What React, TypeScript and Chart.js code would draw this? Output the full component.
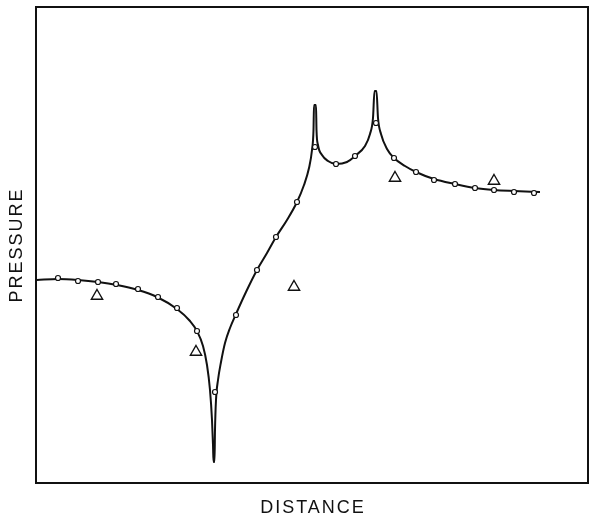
import React, { useEffect, useRef } from "react";
import { Chart, registerables } from "chart.js";

Chart.register(...registerables);

// Distance and pressure in arbitrary units (distance 0–55.2, pressure 0–47.6)
const curveDistance = [
  0.1, 2.2, 4.2, 6.2, 8.1, 10.2, 12.1, 14.1, 15.4, 16.1, 16.7, 17.1, 17.4, 17.6, 17.7, 17.75,
  17.85, 17.9, 18.0, 18.2, 18.5, 18.9, 19.4, 20.0, 21.0, 22.1, 23.1, 24.0, 25.1, 26.1, 26.8,
  27.3, 27.6, 27.75, 27.8, 28.0, 28.05, 28.2, 28.6, 29.2, 30.0, 31.1, 31.9, 32.9, 33.4, 33.7,
  33.85, 34.05, 34.2, 34.5, 35.1, 35.8, 36.9, 38.0, 39.8, 41.9, 43.9, 45.8, 47.8, 50.4,
];
const curvePressure = [
  20.3, 20.4, 20.3, 20.1, 19.8, 19.3, 18.6, 17.4, 16.2, 15.2, 13.7, 11.8, 9.3, 6.3, 3.8, 2.1,
  2.1, 5.3, 8.3, 10.3, 12.1, 14.0, 15.5, 16.9, 19.1, 21.3, 23.0, 24.6, 26.3, 28.1, 29.8,
  31.5, 33.3, 35.3, 37.8, 37.8, 35.3, 33.8, 32.8, 32.2, 31.9, 32.1, 32.7, 33.7, 34.9, 36.5,
  39.2, 39.2, 36.5, 34.9, 33.4, 32.5, 31.7, 31.1, 30.4, 29.9, 29.5, 29.3, 29.2, 29.1,
];

const circleDistance = [
  2.2, 4.2, 6.2, 8.0, 10.2, 12.2, 14.1, 16.1, 17.9, 20.0, 22.1, 24.0, 26.1, 27.9, 30.0, 31.9,
  34.0, 35.8, 38.0, 39.8, 41.9, 43.9, 45.8, 47.8, 49.8,
];
const circlePressure = [
  20.5, 20.2, 20.1, 19.9, 19.4, 18.6, 17.5, 15.2, 9.1, 16.8, 21.3, 24.6, 28.1, 33.6, 31.9, 32.7,
  36.0, 32.5, 31.1, 30.3, 29.9, 29.5, 29.3, 29.1, 29.0,
];

const triangleDistance = [6.1, 16.0, 25.8, 35.9, 45.8];
const trianglePressure = [18.7, 13.1, 19.6, 30.5, 30.2];

const xTitle = "DISTANCE";
const yTitle = "PRESSURE";

const toPoints = (xs: number[], ys: number[]) => xs.map((x, i) => ({ x, y: ys[i] }));

const framePlugin = {
  id: "frameAndTitles",
  afterDraw(chart: any) {
    const { ctx, chartArea } = chart;
    ctx.save();
    ctx.strokeStyle = "#111";
    ctx.lineWidth = 2;
    ctx.strokeRect(
      chartArea.left,
      chartArea.top,
      chartArea.right - chartArea.left,
      chartArea.bottom - chartArea.top
    );
    ctx.fillStyle = "#111";
    ctx.font = "18px 'Liberation Sans', Arial, sans-serif";
    (ctx as any).letterSpacing = "2px";
    ctx.textAlign = "center";
    ctx.textBaseline = "alphabetic";
    ctx.fillText(xTitle, 313, 513);
    ctx.translate(22, 245);
    ctx.rotate(-Math.PI / 2);
    ctx.fillText(yTitle, 0, 0);
    ctx.restore();
  },
};

export default function App() {
  const canvasRef = useRef<HTMLCanvasElement | null>(null);

  useEffect(() => {
    if (!canvasRef.current) return;
    const chart = new Chart(canvasRef.current, {
      type: "scatter",
      data: {
        datasets: [
          {
            type: "line",
            data: toPoints(curveDistance, curvePressure),
            borderColor: "#111",
            borderWidth: 2,
            pointRadius: 0,
            fill: false,
            cubicInterpolationMode: "monotone",
            order: 3,
          } as any,
          {
            data: toPoints(circleDistance, circlePressure),
            pointStyle: "circle",
            pointRadius: 2.5,
            borderWidth: 1.2,
            borderColor: "#111",
            backgroundColor: "#fff",
            order: 1,
          },
          {
            data: toPoints(triangleDistance, trianglePressure),
            pointStyle: "triangle",
            pointRadius: 6.5,
            borderWidth: 1.4,
            borderColor: "#111",
            backgroundColor: "#fff",
            order: 2,
          },
        ],
      },
      options: {
        animation: false,
        responsive: true,
        maintainAspectRatio: false,
        layout: { autoPadding: false, padding: { left: 36, right: 2, top: 7, bottom: 38 } },
        plugins: { legend: { display: false }, tooltip: { enabled: false } },
        scales: {
          x: {
            type: "linear",
            min: 0,
            max: 55.2,
            display: false,
          },
          y: {
            type: "linear",
            min: 0,
            max: 47.6,
            display: false,
          },
        },
      },
      plugins: [framePlugin],
    });
    return () => chart.destroy();
  }, []);

  return (
    <div style={{ position: "fixed", left: 0, top: 0, width: 590, height: 521, background: "#fff" }}>
      <canvas ref={canvasRef} />
    </div>
  );
}
